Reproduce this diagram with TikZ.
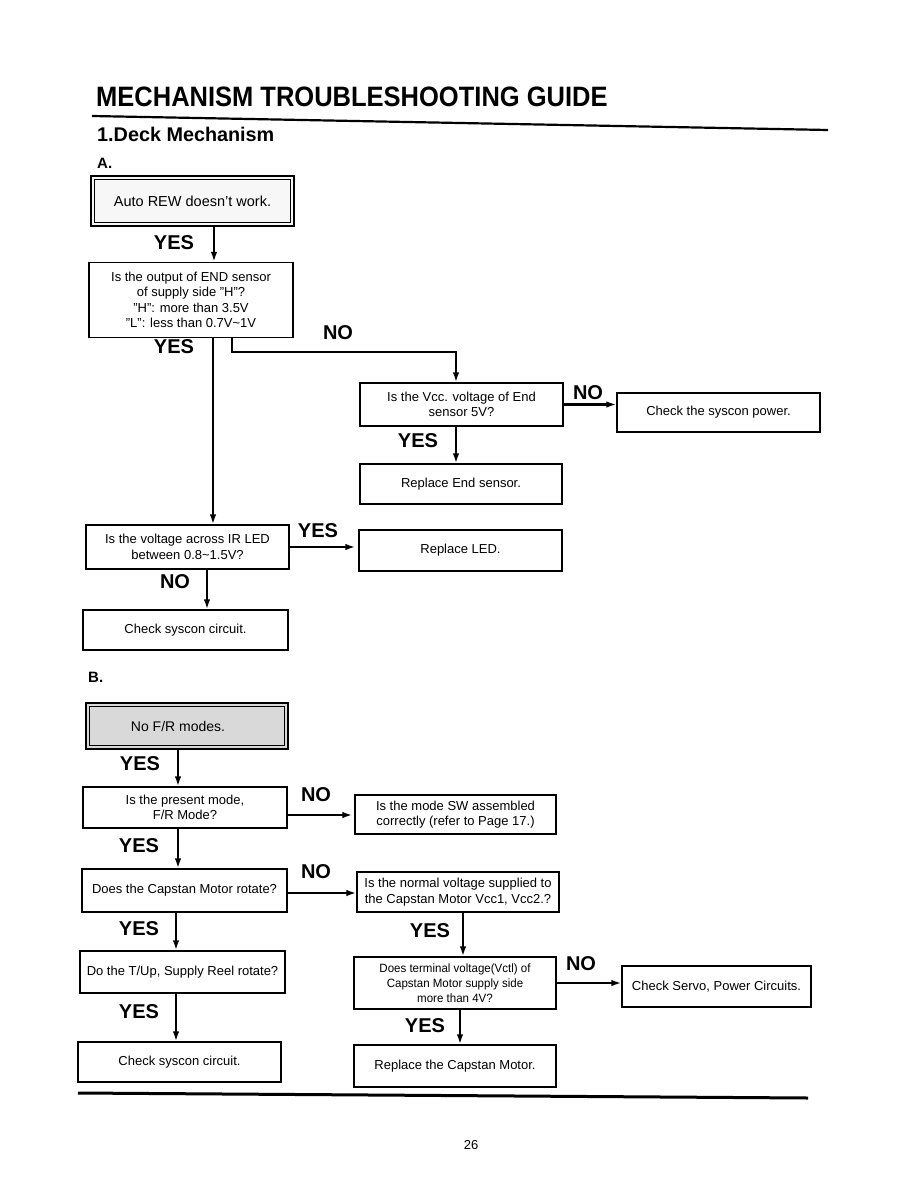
\documentclass[tikz,border=0pt]{standalone}
\usepackage{fontspec}
\setmainfont{Liberation Sans}
\usetikzlibrary{arrows.meta}
\begin{document}
\begin{tikzpicture}[x=1pt,y=-1pt,
 box/.style={draw, line width=1.2pt, inner sep=0pt, align=center, font=\fontsize{13}{15.5}\selectfont},
 lbl/.style={font=\fontsize{20}{20}\selectfont\bfseries, inner sep=0pt},
 arr/.style={line width=2.2pt, -{Latex[length=10pt,width=6.5pt]}},
 rule/.style={line width=2.2pt},
]
\useasboundingbox[fill=white] (0,0) rectangle (918,1188);

% Title
\node[inner sep=0pt, anchor=west] (title) at (96,97) {\scalebox{1}[1.1]{\fontsize{25.5}{26}\selectfont\bfseries MECHANISM TROUBLESHOOTING GUIDE}};
\coordinate (r1a) at (92,116);
\coordinate (r1b) at (828,130);
\draw[rule] (r1a) -- (r1b);
\node[inner sep=0pt, anchor=west] (sec) at (97,134) {\fontsize{19.8}{20}\selectfont\bfseries 1.Deck Mechanism};
\node[inner sep=0pt, anchor=west] (secA) at (97,163) {\fontsize{15}{15}\selectfont\bfseries A.};

% Section A boxes
\node[box, line width=1.8pt, fill=gray!6, minimum width=203pt, minimum height=50pt, font=\fontsize{14.5}{16}\selectfont] (a1) at (192.5,201) {Auto REW doesn't work.};
\draw[line width=1pt] ([shift={(4,4)}]a1.north west) rectangle ([shift={(-4,-4)}]a1.south east);
\node[box, minimum width=204pt, minimum height=75pt] (a2) at (191,300) {Is the output of END sensor\\of supply side "H"?\\"H": more than 3.5V\\"L": less than 0.7V\textasciitilde 1V};
\node[box, minimum width=203pt, minimum height=43pt] (a3) at (461.5,404.5) {Is the Vcc. voltage of End\\sensor 5V?};
\node[box, minimum width=203pt, minimum height=39pt] (a4) at (718.5,412.5) {Check the syscon power.};
\node[box, minimum width=202pt, minimum height=40pt] (a6) at (461,484) {Replace End sensor.};
\node[box, minimum width=203pt, minimum height=44pt] (a5) at (187.5,547) {Is the voltage across IR LED\\between 0.8\textasciitilde 1.5V?};
\node[box, minimum width=203pt, minimum height=41pt] (a7) at (460.5,550.5) {Replace LED.};
\node[box, minimum width=205pt, minimum height=40pt] (a8) at (185.5,630) {Check syscon circuit.};

% Section A labels
\node[lbl] (ya1) at (174,243) {YES};
\node[lbl] (ya2) at (174,347) {YES};
\node[lbl] (na1) at (338,333) {NO};
\node[lbl] (na2) at (588,393) {NO};
\node[lbl] (ya3) at (418,441) {YES};
\node[lbl] (ya4) at (318,531) {YES};
\node[lbl] (na3) at (175,582) {NO};

% Section A connectors
\coordinate (p1) at ([xshift=21.5pt]a1.south);
\draw[arr] (p1) -- (p1 |- a2.north);
\coordinate (p2) at ([xshift=22pt]a2.south);
\draw[arr] (p2) -- (p2 |- a5.north);
\coordinate (p3) at ([xshift=41pt]a2.south);
\coordinate (p3k) at (0,352);
\coordinate (p4) at ([xshift=-5.5pt]a3.north);
\draw[arr] (p3) -- (p3 |- p3k) -| (p4);
\draw[arr] (a3.east) -- (a3.east -| a4.west);
\coordinate (p5) at ([xshift=-5.5pt]a3.south);
\draw[arr] (p5) -- (p5 |- a6.north);
\draw[arr] (a5.east) -- ([xshift=-3pt]a5.east -| a7.west);
\coordinate (p6) at ([xshift=19.5pt]a5.south);
\draw[arr] (p6) -- (p6 |- a8.north);

% Section B
\node[inner sep=0pt, anchor=west] (secB) at (88,677) {\fontsize{15}{15}\selectfont\bfseries B.};
\node[box, line width=1.8pt, fill=gray!30, minimum width=202pt, minimum height=46pt, font=\fontsize{14}{16}\selectfont] (b1) at (187,726) {No F/R modes.\hspace*{18pt}};
\draw[line width=1pt] ([shift={(4,4)}]b1.north west) rectangle ([shift={(-4,-4)}]b1.south east);
\node[box, minimum width=204pt, minimum height=41pt] (b2) at (185,807.5) {Is the present mode,\\F/R Mode?};
\node[box, minimum width=201pt, minimum height=39pt] (b3) at (455.5,814.5) {Is the mode SW assembled\\correctly (refer to Page 17.)};
\node[box, minimum width=205pt, minimum height=43pt] (b4) at (184.5,890.5) {Does the Capstan Motor rotate?};
\node[box, minimum width=202pt, minimum height=40pt] (b5) at (458,892) {Is the normal voltage supplied to\\the Capstan Motor Vcc1, Vcc2.?};
\node[box, minimum width=205pt, minimum height=42pt] (b6) at (182.5,972) {Do the T/Up, Supply Reel rotate?};
\node[box, minimum width=203pt, minimum height=40pt] (b7) at (179.5,1062) {Check syscon circuit.};
\node[box, minimum width=202pt, minimum height=52pt, font=\fontsize{12}{15}\selectfont] (b8) at (455,983) {\scalebox{0.96}[1]{Does terminal voltage(Vctl) of}\\\scalebox{0.96}[1]{Capstan Motor supply side}\\\scalebox{0.96}[1]{more than 4V?}};
\node[box, minimum width=189pt, minimum height=41pt] (b9) at (716.5,986.5) {Check Servo, Power Circuits.};
\node[box, minimum width=202pt, minimum height=42pt] (b10) at (455,1066) {Replace the Capstan Motor.};

% Section B labels
\node[lbl] (yb1) at (140,764) {YES};
\node[lbl] (nb1) at (316,795) {NO};
\node[lbl] (yb2) at (139,846) {YES};
\node[lbl] (nb2) at (316,872) {NO};
\node[lbl] (yb3) at (139,929) {YES};
\node[lbl] (yb4) at (139,1012) {YES};
\node[lbl] (yb5) at (430,931) {YES};
\node[lbl] (nb3) at (581,964) {NO};
\node[lbl] (yb6) at (425,1026) {YES};

% Section B connectors
\coordinate (q1) at ([xshift=-9pt]b1.south);
\draw[arr] (q1) -- (q1 |- b2.north);
\coordinate (q2) at ([yshift=-7.5pt]b2.east);
\draw[arr] (q2) -- ([xshift=-2pt]q2 -| b3.west);
\coordinate (q3) at ([xshift=-7pt]b2.south);
\draw[arr] (q3) -- (q3 |- b4.north);
\coordinate (q4) at ([yshift=-2.5pt]b4.east);
\draw[arr] (q4) -- (q4 -| b5.west);
\coordinate (q5) at ([xshift=-8.5pt]b4.south);
\draw[arr] (q5) -- (q5 |- b6.north);
\coordinate (q6) at ([xshift=-6.5pt]b6.south);
\draw[arr] (q6) -- (q6 |- b7.north);
\coordinate (q7) at ([xshift=5pt]b5.south);
\draw[arr] (q7) -- (q7 |- b8.north);
\draw[arr] (b8.east) -- (b8.east -| b9.west);
\coordinate (q8) at ([xshift=5pt]b8.south);
\draw[arr] (q8) -- (q8 |- b10.north);

% bottom rule and page number
\coordinate (r2a) at (78,1093);
\coordinate (r2b) at (808,1098);
\draw[line width=3pt] (r2a) -- (r2b);
\node[inner sep=0pt] (pg) at (471,1145) {\fontsize{13}{13}\selectfont 26};
\end{tikzpicture}
\end{document}
